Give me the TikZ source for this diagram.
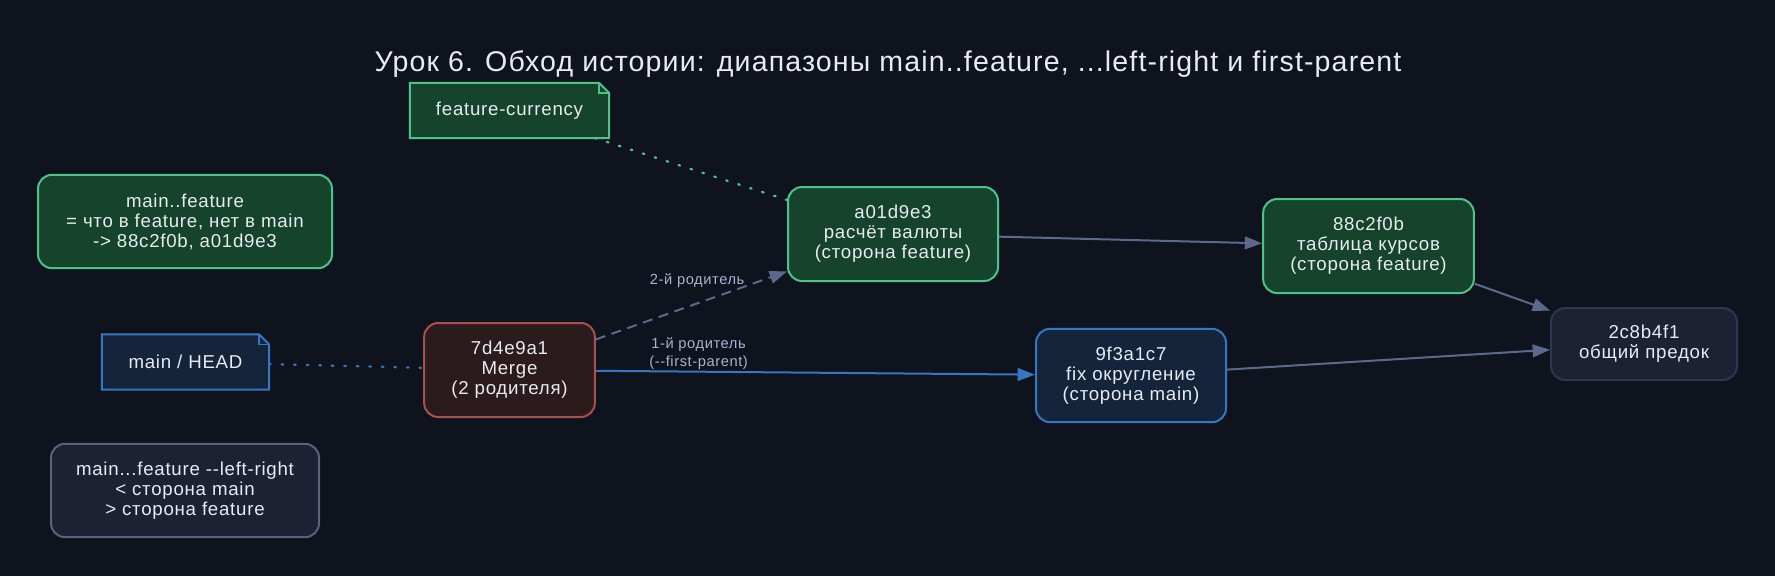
\documentclass[tikz,border=0pt]{standalone}
\usepackage{fontspec}
\setmainfont{Liberation Sans}[LetterSpace=4]
\usepackage{tikz}
\usetikzlibrary{arrows.meta}
\definecolor{bgcol}{HTML}{0F131E}
\definecolor{ink}{HTML}{E8EBF2}
\definecolor{labelink}{HTML}{A7B3CF}
\definecolor{featfill}{HTML}{15432C}
\definecolor{featline}{HTML}{4DC38A}
\definecolor{mainfill}{HTML}{14253B}
\definecolor{mainline}{HTML}{3577C2}
\definecolor{mergefill}{HTML}{2B1B1D}
\definecolor{mergeline}{HTML}{A9504E}
\definecolor{basefill}{HTML}{1C2133}
\definecolor{baseline}{HTML}{2D3652}
\definecolor{legendline}{HTML}{56647F}
\definecolor{slate}{HTML}{5B6A8C}
\tikzstyle{commit}=[rectangle,rounded corners=10.5pt,line width=1.5pt,minimum height=70.5pt,inner sep=0pt,align=center,text=ink,font=\fontsize{14}{15}\selectfont]
\tikzstyle{featurecommit}=[commit,draw=featline,fill=featfill]
\tikzstyle{maincommit}=[commit,draw=mainline,fill=mainfill]
\tikzstyle{mergecommit}=[commit,draw=mergeline,fill=mergefill]
\tikzstyle{basecommit}=[commit,draw=baseline,fill=basefill]
\tikzstyle{legendbox}=[commit,draw=legendline,fill=basefill,minimum height=70pt]
\tikzstyle{refnote}=[rectangle,minimum height=41pt,inner sep=0pt,text=ink,font=\fontsize{14}{15}\selectfont]
\tikzstyle{parentedge}=[draw,line width=1.5pt,slate,-{Triangle[length=13pt,width=9.5pt]}]
\tikzstyle{refline}=[line width=1.7pt,line cap=round,dash pattern=on 1.2pt off 8.2pt]
\tikzstyle{edgelabel}=[inner sep=1pt,align=center,text=labelink,font=\fontsize{11}{13.5}\selectfont]
% folded corner of a ref label
\newcommand{\dogear}[2]{%
    \fill[bgcol] ([xshift=-7.5pt]#1.north east) -- (#1.north east) -- ([yshift=-7.5pt]#1.north east) -- cycle;
    \draw[#2,line width=1.5pt,line join=miter] (#1.north west) -- ([xshift=-7.5pt]#1.north east) -- ([yshift=-7.5pt]#1.north east) -- (#1.south east) -- (#1.south west) -- cycle;
    \draw[#2,line width=1pt] ([xshift=-7.5pt]#1.north east) |- ([yshift=-7.5pt]#1.north east);
}

\begin{document}
\begin{tikzpicture}[x=0.75pt,y=-0.75pt]
    \fill[bgcol] (0,0) rectangle (1775,576);
    \useasboundingbox (0,0) rectangle (1775,576);
    \node[text=ink,font=\fontsize{21.4}{25}\selectfont] (title) at (888,64) {Урок 6. Обход истории: диапазоны main..feature, ...left-right и first-parent};
    % Branch labels
    \node[refnote,fill=featfill,minimum width=149pt] (featref) at (509.5,110.5) {feature-currency};
    \dogear{featref}{featline}
    \node[refnote,fill=mainfill,minimum width=125pt] (headref) at (185.5,362) {main / HEAD};
    \dogear{headref}{mainline}
    % Range notes on the left
    \node[featurecommit,minimum width=220.5pt,minimum height=70pt] (twodot) at (185,221.5) {main..feature\\= что в feature, нет в main\\-> 88c2f0b, a01d9e3};
    \node[legendbox,minimum width=201pt] (threedot) at (185,490.5) {main...feature -{}-left-right\\< сторона main\\> сторона feature};
    % Then the commits
    \node[mergecommit,minimum width=128pt] (7d4e9a1) at (509.5,370) {7d4e9a1\\Merge\\(2 родителя)};
    \node[featurecommit,minimum width=157.5pt] (a01d9e3) at (893,234) {a01d9e3\\расчёт валюты\\(сторона feature)};
    \node[featurecommit,minimum width=158pt] (88c2f0b) at (1368.5,246) {88c2f0b\\таблица курсов\\(сторона feature)};
    \node[maincommit,minimum width=142.5pt,minimum height=70pt] (9f3a1c7) at (1131,375.5) {9f3a1c7\\fix округление\\(сторона main)};
    \node[basecommit,minimum width=139.5pt,minimum height=54pt] (2c8b4f1) at (1644,344) {2c8b4f1\\общий предок};
    % Parents of the merge
    \draw[parentedge,mainline] (7d4e9a1) -- node[edgelabel,above,pos=.234] (firstlbl) {1-й родитель\\(-{}-first-parent)} (9f3a1c7);
    \draw[parentedge,dash pattern=on 7.5pt off 5pt] (7d4e9a1) -- node[edgelabel,above=10pt,pos=.53] (secondlbl) {2-й родитель} (a01d9e3);
    % Remaining parents
    \foreach \source/\dest in {a01d9e3/88c2f0b, 88c2f0b/2c8b4f1, 9f3a1c7/2c8b4f1}
        \path[parentedge] (\source) -- (\dest);
    % Refs point at their commits
    \draw[refline,mainline] (headref) -- (7d4e9a1);
    \draw[refline,featline] (featref) -- (a01d9e3);
\end{tikzpicture}
\end{document}
